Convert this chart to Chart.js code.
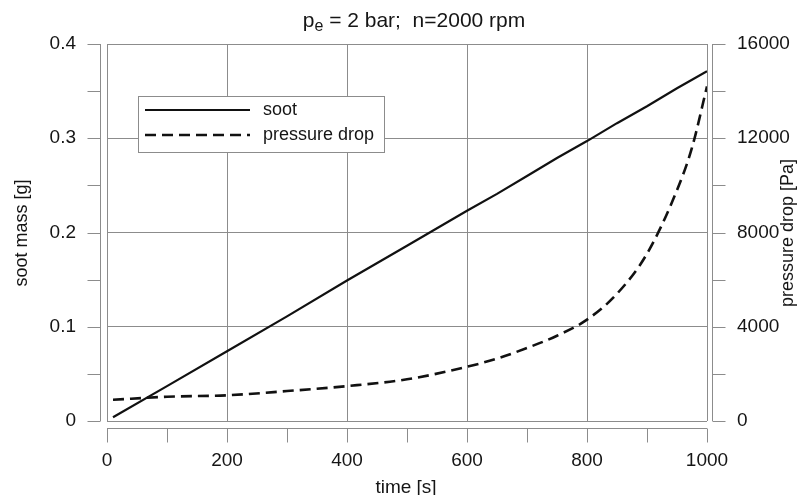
<!DOCTYPE html>
<html>
<head>
<meta charset="utf-8">
<script src="https://cdn.jsdelivr.net/npm/chart.js@4"></script>
<style>
  html, body { margin: 0; padding: 0; background: #fff; }
  #wrap { width: 800px; height: 495px; }
</style>
</head>
<body>
<div id="wrap"><canvas id="chart" width="800" height="495"></canvas></div>
<script>
'use strict'

// values
const times = [10, 100, 200, 300, 400, 500, 600, 650, 700, 750, 800, 850, 900, 950, 975, 1000]
const sootMass = [0.004, 0.037, 0.074, 0.111, 0.149, 0.186, 0.223, 0.241, 0.260, 0.279, 0.297, 0.316, 0.334, 0.353, 0.362, 0.371]
const pressureDrop = [900, 1030, 1090, 1270, 1480, 1770, 2300, 2650, 3100, 3620, 4300, 5400, 7100, 9800, 11600, 14200]

const xTickStep = 200
const xMinorStep = 100
const yTickStep = 0.1
const yMinorStep = 0.05
const y2TickStep = 4000
const y2MinorStep = 2000

const FONT = '"Liberation Sans", Arial, Helvetica, sans-serif'
const INK = '#151515'
const GRID = '#8c8c8c'

// detached axes, axis titles, title and legend
const extras = {
  id: 'extras',
  afterDraw(chart) {
    const { ctx, chartArea: a, scales } = chart
    const line = (x1, y1, x2, y2) => {
      ctx.beginPath()
      ctx.moveTo(x1, y1)
      ctx.lineTo(x2, y2)
      ctx.stroke()
    }
    ctx.save()
    ctx.strokeStyle = GRID
    ctx.lineWidth = 1

    // left axis
    const lx = a.left - 6.5
    line(lx, a.top, lx, a.bottom)
    for (let i = 0; i * yMinorStep <= scales.y.max + 1e-9; i++) {
      const y = Math.round(scales.y.getPixelForValue(i * yMinorStep)) + 0.5
      line(lx - 13, y, lx, y)
    }
    // right axis
    const rx = a.right + 5.5
    line(rx, a.top, rx, a.bottom)
    for (let v = 0; v <= scales.y2.max; v += y2MinorStep) {
      const y = Math.round(scales.y2.getPixelForValue(v)) + 0.5
      line(rx, y, rx + 13, y)
    }
    // bottom axis
    const by = a.bottom + 7.5
    line(a.left, by, a.right, by)
    for (let v = 0; v <= scales.x.max; v += xMinorStep) {
      const x = Math.round(scales.x.getPixelForValue(v)) + 0.5
      line(x, by, x, by + 14)
    }

    ctx.fillStyle = INK
    ctx.textBaseline = 'middle'
    ctx.textAlign = 'center'

    // axis titles
    ctx.font = '19px ' + FONT
    ctx.fillText('time [s]', 406, 488)
    ctx.font = '18px ' + FONT
    ctx.save()
    ctx.translate(22, 233)
    ctx.rotate(-Math.PI / 2)
    ctx.fillText('soot mass [g]', 0, 0)
    ctx.restore()
    ctx.save()
    ctx.translate(788, 233)
    ctx.rotate(-Math.PI / 2)
    ctx.fillText('pressure drop [Pa]', 0, 0)
    ctx.restore()

    // chart title with subscript
    ctx.textAlign = 'left'
    ctx.textBaseline = 'alphabetic'
    const big = '21px ' + FONT
    const small = '16px ' + FONT
    const rest = ' = 2 bar;  n=2000 rpm'
    ctx.font = big
    const wp = ctx.measureText('p').width
    const wr = ctx.measureText(rest).width
    ctx.font = small
    const we = ctx.measureText('e').width
    let tx = 414 - (wp + we + wr) / 2
    const base = 27
    ctx.font = big
    ctx.fillText('p', tx, base)
    tx += wp
    ctx.font = small
    ctx.fillText('e', tx, base + 4)
    tx += we
    ctx.font = big
    ctx.fillText(rest, tx, base)

    // legend box
    ctx.fillStyle = '#fff'
    ctx.fillRect(138, 96, 246, 56)
    ctx.strokeStyle = GRID
    ctx.strokeRect(138.5, 96.5, 246, 56)
    ctx.font = '18px ' + FONT
    ctx.textBaseline = 'middle'
    chart.data.datasets.forEach((ds, i) => {
      const y = 110 + i * 25
      ctx.strokeStyle = ds.borderColor
      ctx.lineWidth = ds.borderWidth
      ctx.setLineDash(ds.borderDash || [])
      line(145, y, 250, y)
      ctx.setLineDash([])
      ctx.fillStyle = INK
      ctx.fillText(ds.label, 263, y)
    })
    ctx.restore()
  }
}

const toPoints = (xs, ys) => xs.map((x, i) => ({ x: x, y: ys[i] }))

const data = {
  datasets: [
    {
      label: 'soot',
      data: toPoints(times, sootMass),
      borderColor: '#111',
      borderWidth: 2.2,
      pointRadius: 0,
      yAxisID: 'y',
    },
    {
      label: 'pressure drop',
      data: toPoints(times, pressureDrop),
      borderColor: '#111',
      borderWidth: 2.6,
      borderDash: [11, 6],
      pointRadius: 0,
      cubicInterpolationMode: 'monotone',
      yAxisID: 'y2',
    },
  ],
}

const tickFont = { family: FONT, size: 19 }

const config = {
  type: 'line',
  data: data,
  options: {
    responsive: false,
    animation: false,
    layout: { padding: { top: 44, left: 0, right: 0, bottom: 0 } },
    plugins: { legend: { display: false }, tooltip: { enabled: false } },
    scales: {
      x: {
        type: 'linear',
        min: 0,
        max: 1000,
        ticks: { stepSize: xTickStep, font: tickFont, color: INK, padding: 28,
          callback: (v) => String(v) },
        grid: { color: GRID, drawTicks: false },
        border: { display: false },
        afterFit: (s) => { s.height = 74 },
      },
      y: {
        position: 'left',
        min: 0,
        max: 0.4,
        ticks: { stepSize: yTickStep, font: tickFont, color: INK, padding: 31,
          callback: (v) => String(Math.round(v * 10) / 10) },
        grid: { color: GRID, drawTicks: false },
        border: { display: false },
        afterFit: (s) => { s.width = 107 },
      },
      y2: {
        position: 'right',
        min: 0,
        max: 16000,
        ticks: { stepSize: y2TickStep, font: tickFont, color: INK, padding: 30,
          callback: (v) => String(v) },
        grid: { display: false, drawTicks: false },
        border: { display: false },
        afterFit: (s) => { s.width = 93 },
      },
    },
  },
  plugins: [extras],
}

const myChart = new Chart(document.getElementById('chart'), config)
</script>
</body>
</html>
